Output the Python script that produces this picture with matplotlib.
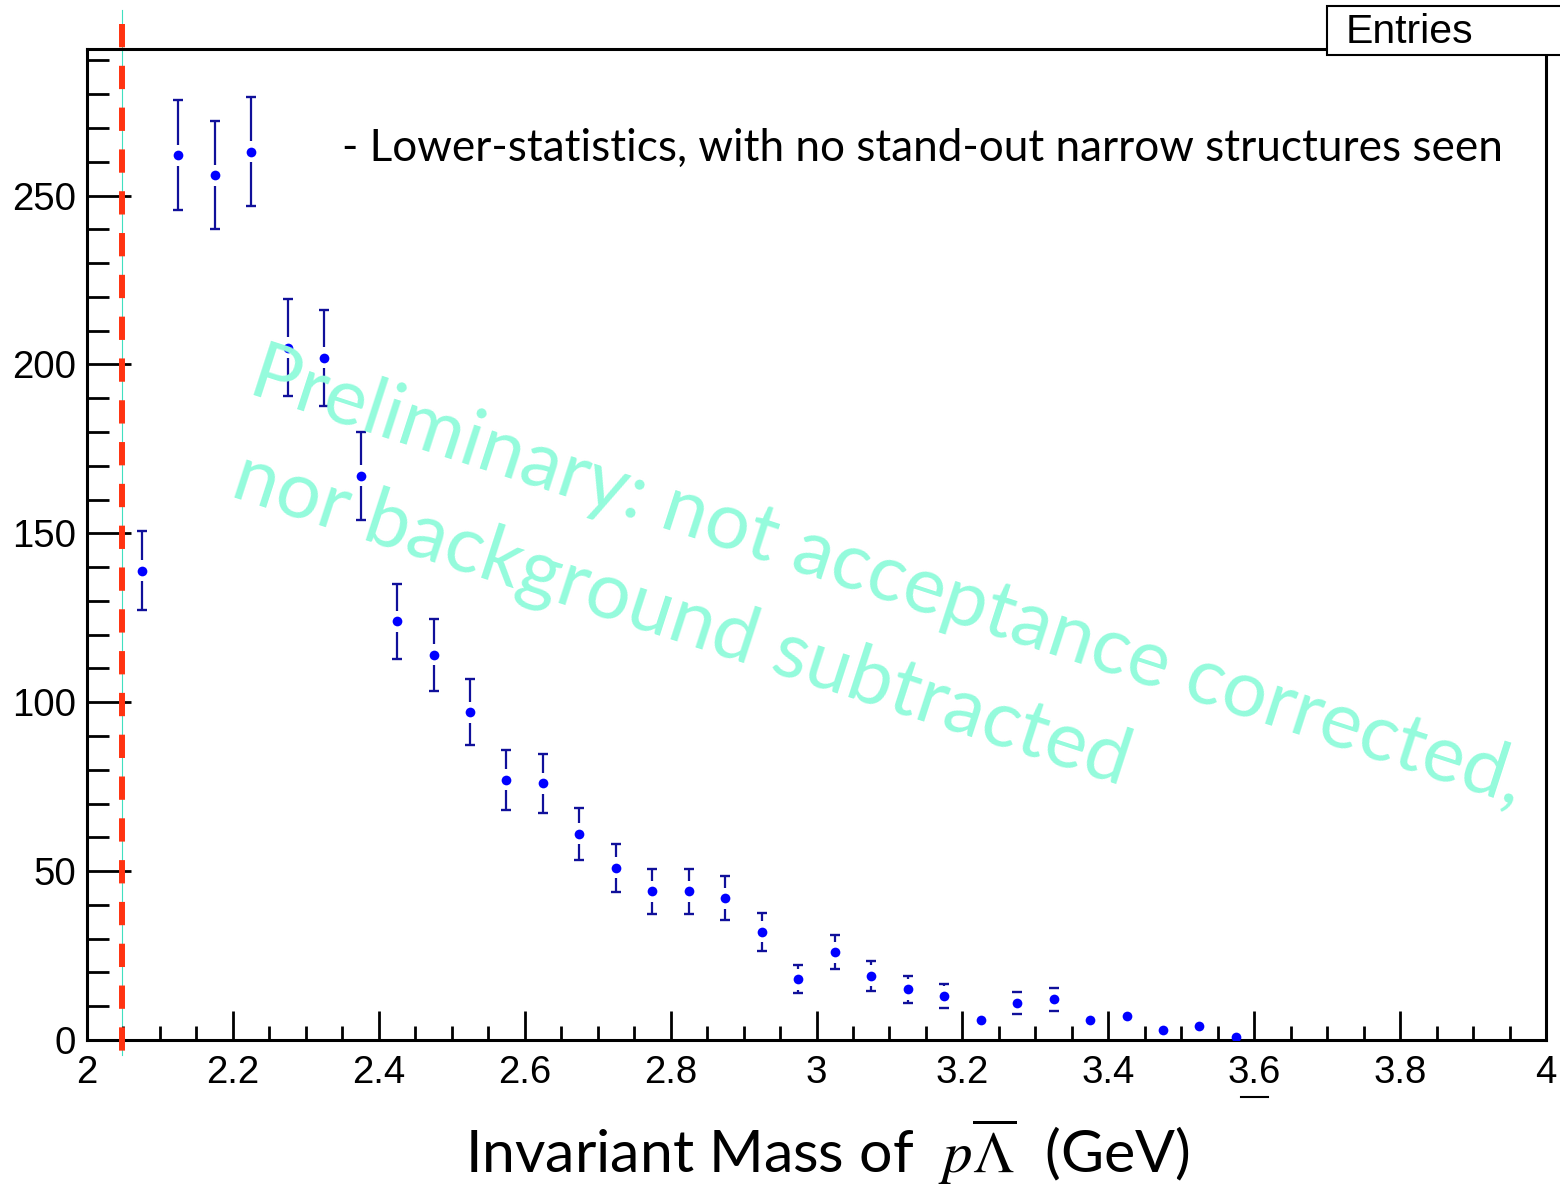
import numpy as np
import matplotlib
matplotlib.use("Agg")
import matplotlib.pyplot as plt
from matplotlib.patches import Rectangle
from matplotlib.lines import Line2D

# ---- data: p-Lambda-bar invariant mass spectrum (bin centres, counts, errors)
mass = [2.075, 2.125, 2.175, 2.225, 2.275, 2.325, 2.375, 2.425, 2.475, 2.525,
        2.575, 2.625, 2.675, 2.725, 2.775, 2.825, 2.875, 2.925, 2.975, 3.025,
        3.075, 3.125, 3.175, 3.225, 3.275, 3.325, 3.375, 3.425, 3.475, 3.525,
        3.575]
entries = [139, 262, 256, 263, 205, 202, 167, 124, 114, 97,
           77, 76, 61, 51, 44, 44, 42, 32, 18, 26,
           19, 15, 13, 6, 11, 12, 6, 7, 3, 4,
           1]
errors = [11.8, 16.2, 16.0, 16.2, 14.3, 14.2, 12.9, 11.1, 10.7, 9.8,
          8.8, 8.7, 7.8, 7.1, 6.6, 6.6, 6.5, 5.7, 4.2, 5.1,
          4.4, 3.9, 3.6, 2.4, 3.3, 3.5, 2.4, 2.6, 1.7, 2.0,
          1.0]
threshold_mass = 2.048
x_ticks = [2.0, 2.2, 2.4, 2.6, 2.8, 3.0, 3.2, 3.4, 3.6, 3.8, 4.0]
y_ticks = [0, 50, 100, 150, 200, 250]
x_range = (2.0, 4.0)
y_range = (0.0, 293.4)

note_text = "- Lower-statistics, with no stand-out narrow structures seen"
stamp_lines = ["Preliminary: not acceptance corrected,",
               "nor background subtracted"]
x_title = r"Invariant Mass of  $p\overline{\Lambda}$  (GeV)"
stats_title = "Entries"

# ---- figure setup
W, H, DPI = 1560, 1185, 100
plt.rcParams["mathtext.fontset"] = "stix"
fig = plt.figure(figsize=(W / DPI, H / DPI), dpi=DPI)
fig.patch.set_facecolor("white")


def fx(px):
    return px / W


def fy(py):
    return 1 - py / H


ax = fig.add_axes([fx(87), fy(1040), fx(1546) - fx(87), fy(49) - fy(1040)])
ax.set_xlim(*x_range)
ax.set_ylim(*y_range)

tick_font = "Liberation Sans"
ax.set_xticks(x_ticks)
ax.set_xticklabels([f"{t:g}" for t in x_ticks], family=tick_font, fontsize=27.6)
ax.set_yticks(y_ticks)
ax.set_yticklabels([f"{t:g}" for t in y_ticks], family=tick_font, fontsize=27.6)
ax.set_xticks(np.arange(2.0, 4.0001, 0.05), minor=True)
ax.set_yticks(np.arange(0, 291, 10), minor=True)

ax.tick_params(axis="x", which="major", direction="in", length=21, width=2.0,
               pad=11, top=False)
ax.tick_params(axis="x", which="minor", direction="in", length=10, width=2.0,
               top=False)
ax.tick_params(axis="y", which="major", direction="in", length=31.7, width=2.0,
               pad=8, right=False)
ax.tick_params(axis="y", which="minor", direction="in", length=15.8, width=2.0,
               right=False)
for sp in ax.spines.values():
    sp.set_linewidth(2.2)

# ---- watermark (behind the data)
renderer = fig.canvas.get_renderer()


def fit_width(txt, target_px):
    for _ in range(2):
        w = txt.get_window_extent(renderer).width
        txt.set_fontsize(txt.get_fontsize() * target_px / w)


stamp_color = "#94fbdc"
stamp1 = fig.text(fx(246), fy(393), stamp_lines[0], family="Lato",
                  color=stamp_color, fontsize=50, ha="left", va="baseline")
fit_width(stamp1, 1335)
stamp2 = fig.text(fx(229), fy(495), stamp_lines[1], family="Lato",
                  color=stamp_color, fontsize=stamp1.get_fontsize(),
                  ha="left", va="baseline")
for s in (stamp1, stamp2):
    s.set_rotation(-18)
    s.set_rotation_mode("anchor")
    s.set_zorder(0.5)

# ---- threshold marker line
ax.plot([threshold_mass, threshold_mass], [1.039, -0.015],
        transform=ax.get_xaxis_transform(), clip_on=False,
        color="#40e0c0", lw=0.8, zorder=1)
ax.plot([threshold_mass, threshold_mass], [1.025, -0.015],
        transform=ax.get_xaxis_transform(), clip_on=False,
        color="#ff3311", lw=4.3, dashes=(3.9, 3.1), dash_capstyle="butt",
        zorder=6)

# ---- data points with error bars (bars leave a gap around the marker)
x = np.array(mass)
y = np.array(entries, dtype=float)
e = np.array(errors)
ax_h_px = ax.get_window_extent(renderer).height
gap = 10.5 * (y_range[1] - y_range[0]) / ax_h_px
show = e > gap
bar_color = "#10109a"
ax.vlines(x[show], y[show] - e[show], y[show] - gap, color=bar_color, lw=1.6,
          zorder=3)
ax.vlines(x[show], y[show] + gap, y[show] + e[show], color=bar_color, lw=1.6,
          zorder=3)
ax.plot(x[show], y[show] + e[show], ls="none", marker="_", ms=7.4, mew=1.7,
        color=bar_color, zorder=3)
ax.plot(x[show], y[show] - e[show], ls="none", marker="_", ms=7.4, mew=1.7,
        color=bar_color, zorder=3)
ax.plot(x, y, ls="none", marker="o", ms=7.0, mec="none", color="#0000ff",
        zorder=4)

# ---- annotation and axis title
note = fig.text(fx(342), fy(161), note_text, family="Lato", fontsize=30,
                color="black", ha="left", va="baseline")
fit_width(note, 1161)

title = fig.text(fx(465), fy(1173), x_title, family="Lato", fontsize=40,
                 color="black", ha="left", va="baseline")
fit_width(title, 725)

# ---- statistics box in the top-right corner
fig.add_artist(Rectangle((fx(1327), fy(55)), fx(1700) - fx(1327),
                         fy(6) - fy(55), transform=fig.transFigure,
                         facecolor="white", edgecolor="black", lw=1.5,
                         zorder=10))
fig.text(fx(1346), fy(32), stats_title, family=tick_font, fontsize=29.5,
         ha="left", va="center", zorder=11)

# short rule below the 3.6 label
fig.add_artist(Line2D([fx(1241), fx(1268)], [fy(1097), fy(1097)],
                      transform=fig.transFigure, color="black", lw=1.5))

fig.savefig("out.png", dpi=DPI, facecolor="white")
